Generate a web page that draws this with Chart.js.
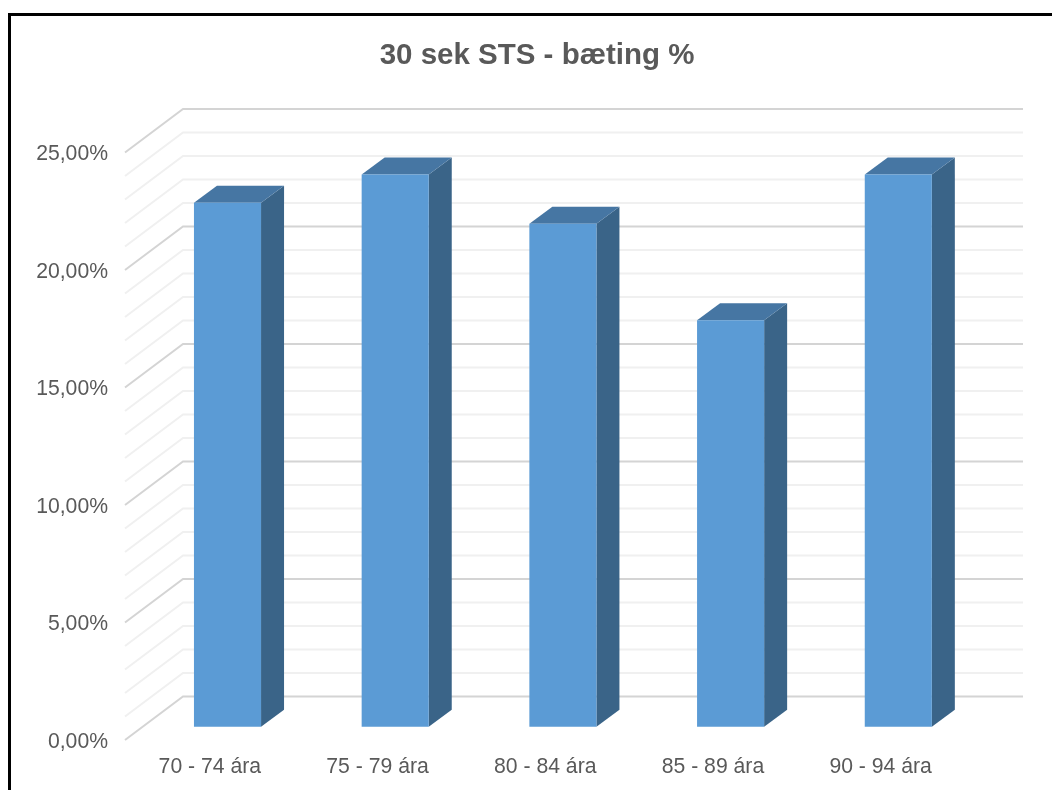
<!DOCTYPE html>
<html>
<head>
<meta charset="utf-8">
<style>
html,body{margin:0;padding:0;background:#fff;overflow:hidden}
#wrap{position:relative;width:1052px;height:790px}
#frame{position:absolute;left:8px;top:13px;width:1044px;height:777px;box-sizing:border-box;border-left:3px solid #000;border-top:3px solid #000;pointer-events:none}
canvas{position:absolute;left:0;top:0}
</style>
<script src="https://cdn.jsdelivr.net/npm/chart.js@4/dist/chart.umd.js"></script>
</head>
<body>
<div id="wrap"><canvas id="c" width="1052" height="790"></canvas><div id="frame"></div></div>
<script>
const categories = ['70 - 74 ára','75 - 79 ára','80 - 84 ára','85 - 89 ára','90 - 94 ára'];
const values = [22.3, 23.5, 21.4, 17.3, 23.5];
const chartTitle = '30 sek STS - bæting %';

const GRID = {dxLeft:-1, dxRight:0.5, x:58, y:43.5}; // side wall and back wall offsets
const BARSHIFT = {x:17.65, y:13.3}; // bar front plane inside the box
const BAR3D = {x:23, y:17};     // bar's own depth

const box3d = {
  id:'box3d',
  afterLayout(chart){
    const t = chart.titleBlock;
    t.left = 22; t.right = 1052;
  },
  beforeDatasetsDraw(chart){
    const {ctx, chartArea:a, scales:{y}} = chart;
    ctx.save();
    y.ticks.forEach(t=>{
      const py = y.getPixelForValue(t.value);
      ctx.beginPath();
      ctx.moveTo(a.left+GRID.dxLeft, py);
      ctx.lineTo(a.left+GRID.dxLeft+GRID.x, py-GRID.y);
      ctx.lineTo(a.right+GRID.dxRight+GRID.x, py-GRID.y);
      const major = t.value % 5 === 0;
      ctx.strokeStyle = major ? '#d4d4d4' : '#f0f0f0';
      ctx.lineWidth = 2;
      ctx.stroke();
    });
    ctx.restore();
    ctx.save();
    ctx.translate(BARSHIFT.x, -BARSHIFT.y);
    chart.getDatasetMeta(0).data.forEach(b=>{
      const l=b.x-b.width/2, r=b.x+b.width/2, top=b.y, base=b.base;
      ctx.fillStyle='#3a6488';
      ctx.beginPath();
      ctx.moveTo(r,top);ctx.lineTo(r+BAR3D.x,top-BAR3D.y);ctx.lineTo(r+BAR3D.x,base-BAR3D.y);ctx.lineTo(r,base);ctx.closePath();ctx.fill();
      ctx.fillStyle='#4676a3';
      ctx.beginPath();
      ctx.moveTo(l,top);ctx.lineTo(l+BAR3D.x,top-BAR3D.y);ctx.lineTo(r+BAR3D.x,top-BAR3D.y);ctx.lineTo(r,top);ctx.closePath();ctx.fill();
    });
  },
  afterDatasetsDraw(chart){ chart.ctx.restore(); }
};

new Chart(document.getElementById('c'),{
  type:'bar',
  data:{labels:categories,datasets:[{data:values,backgroundColor:'#5b9bd5',borderWidth:0,barPercentage:0.4,categoryPercentage:1,clip:false}]},
  plugins:[box3d],
  options:{
    responsive:false,animation:false,
    layout:{padding:{left:0,right:87.5,top:0,bottom:0}},
    plugins:{
      legend:{display:false},tooltip:{enabled:false},
      title:{display:true,text:chartTitle,color:'#595959',font:{family:'"Liberation Sans"',size:29.5,weight:'bold',lineHeight:1.15},padding:{top:39,bottom:79.6}}
    },
    scales:{
      y:{min:0,max:25,
        afterFit(s){s.width=126;},
        grid:{display:false,drawTicks:false},border:{display:false},
        ticks:{stepSize:1,autoSkip:false,padding:18,color:'#595959',font:{family:'"Liberation Sans"',size:21.2,lineHeight:'4px'},
          callback:v=>v%5===0?['',v.toFixed(2).replace('.',',')+'%']:''}
      },
      x:{
        afterFit(s){s.height=50;},
        grid:{display:false,drawTicks:false},border:{display:false},
        ticks:{padding:14,color:'#595959',maxRotation:0,font:{family:'"Liberation Sans"',size:21.2}}
      }
    }
  }
});
</script>
</body>
</html>
